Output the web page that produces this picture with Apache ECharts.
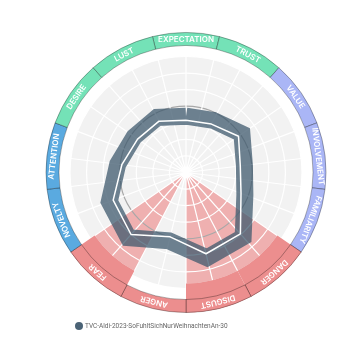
<!DOCTYPE html>
<html>
<head>
<meta charset="utf-8">
<script src="https://cdn.jsdelivr.net/npm/echarts@6/dist/echarts.min.js"></script>
<style>
html,body{margin:0;padding:0;background:#fff}
#main{width:354px;height:354px}
</style>
</head>
<body>
<div id="main"></div>
<script>
// categories clockwise, starting at the top
var categories=['EXPECTATION','TRUST','VALUE','INVOLVEMENT','FAMILIARITY','DANGER','DISGUST','ANGER','FEAR','NOVELTY','ATTENTION','DESIRE','LUST'];
var groups=['pos','pos','val','val','val','neg','neg','neg','neg','att','att','pos','pos'];
var highlighted=['DANGER','DISGUST','FEAR'];
var seriesName='TVC-Aldi-2023-SoFuhltSichNurWeihnachtenAn-30';
// white score line and the dark band around it
var scores=[3.15,3.3,3.85,3.3,3.55,4.95,5.05,4.0,5.0,4.7,3.9,3.55,3.5];
var bandScores=[3.4,3.55,4.1,3.55,3.8,5.2,5.3,4.25,5.25,4.95,4.15,3.8,3.75];
var radiusMax=7;
var refLevel=4;

var groupColor={pos:'#74e2b7',val:'#aab6f6',neg:'#ec8e8e',att:'#5aaae0'};
var CX=186,CY=172.5;
var step=360/categories.length;

var bandData=categories.map(function(c,i){
    return {name:c,value:1,itemStyle:{color:groupColor[groups[i]]}};
});
var labelData=categories.map(function(c,i){
    return {name:c,value:1,itemStyle:{color:'rgba(0,0,0,0)'},label:{rotate:-i*step}};
});
var innerData=categories.map(function(c){
    var on=highlighted.indexOf(c)>=0;
    return {name:c,value:1,itemStyle:{color:on?groupColor.neg:'rgba(0,0,0,0)'}};
});
var pinkData=categories.map(function(c){
    var on=highlighted.indexOf(c)>=0;
    return {name:c,value:1,itemStyle:{color:on?'rgba(236,110,110,0.5)':'rgba(0,0,0,0)'}};
});
function toPolar(arr){
    var out=arr.map(function(v,i){return [v,i+0.5];});
    out.push([arr[0],0.5]);
    return out;
}
var circleColors=[];
for(var k=0;k<=radiusMax;k++){circleColors.push(k===refLevel?'#a8a8a8':'#ffffff');}

var chart=echarts.init(document.getElementById('main'));
var option={
    animation:false,
    legend:{
        data:[{name:seriesName,itemStyle:{color:'#4b6376'}}],
        left:70,top:317,icon:'circle',itemWidth:8,itemHeight:8,itemGap:4,
        textStyle:{color:'#666',fontSize:6.5,fontFamily:'Roboto',padding:[0,0,0,-3]}
    },
    polar:{center:[CX,CY],radius:116},
    angleAxis:{
        type:'value',min:0,max:categories.length,interval:0.5,
        startAngle:90+step/2,clockwise:true,z:2,
        axisLine:{show:false},axisTick:{show:false},axisLabel:{show:false},
        splitLine:{show:true,lineStyle:{color:'#ffffff',width:1.2}}
    },
    radiusAxis:{
        type:'value',min:0,max:radiusMax,interval:1,z:2,
        axisLine:{show:false},axisTick:{show:false},axisLabel:{show:false},
        splitLine:{show:true,lineStyle:{color:circleColors,width:1.2}}
    },
    series:[
        {type:'pie',silent:true,z:0,center:[CX,CY],radius:[0,116],
         data:[{value:1,itemStyle:{color:'#f2f2f2'}}],label:{show:false}},
        {type:'pie',silent:true,z:1,center:[CX,CY],radius:[0,111],
         startAngle:90+step/2,data:pinkData,label:{show:false}},
        {type:'pie',silent:true,z:3,center:[CX,CY],radius:[111,140],
         startAngle:90+step/2,data:innerData,label:{show:false}},
        {type:'pie',silent:true,z:3,center:[CX,CY],radius:[127,140],
         startAngle:90+step/2,data:bandData,
         itemStyle:{borderColor:'rgba(0,0,0,0.3)',borderWidth:1},
         label:{show:false},labelLine:{show:false}},
        {type:'pie',silent:true,z:3,center:[CX,CY],radius:[120,140],
         startAngle:90+step/2,data:labelData,
         label:{show:true,position:'inside',color:'#fff',fontSize:8,fontWeight:600,fontFamily:'Inter',formatter:'{b}'},
         labelLine:{show:false}},
        {type:'line',name:seriesName,coordinateSystem:'polar',z:4,
         data:toPolar(bandScores),showSymbol:false,symbol:'none',
         itemStyle:{color:'#4b6376'},
         lineStyle:{width:17,color:'rgba(63,90,110,0.75)',join:'miter'}},
        {type:'line',name:'score',coordinateSystem:'polar',z:5,
         data:toPolar(scores),showSymbol:false,symbol:'none',
         itemStyle:{color:'#fff'},
         lineStyle:{width:1.5,color:'#ffffff'}}
    ]
};
chart.setOption(option);
</script>
</body>
</html>
